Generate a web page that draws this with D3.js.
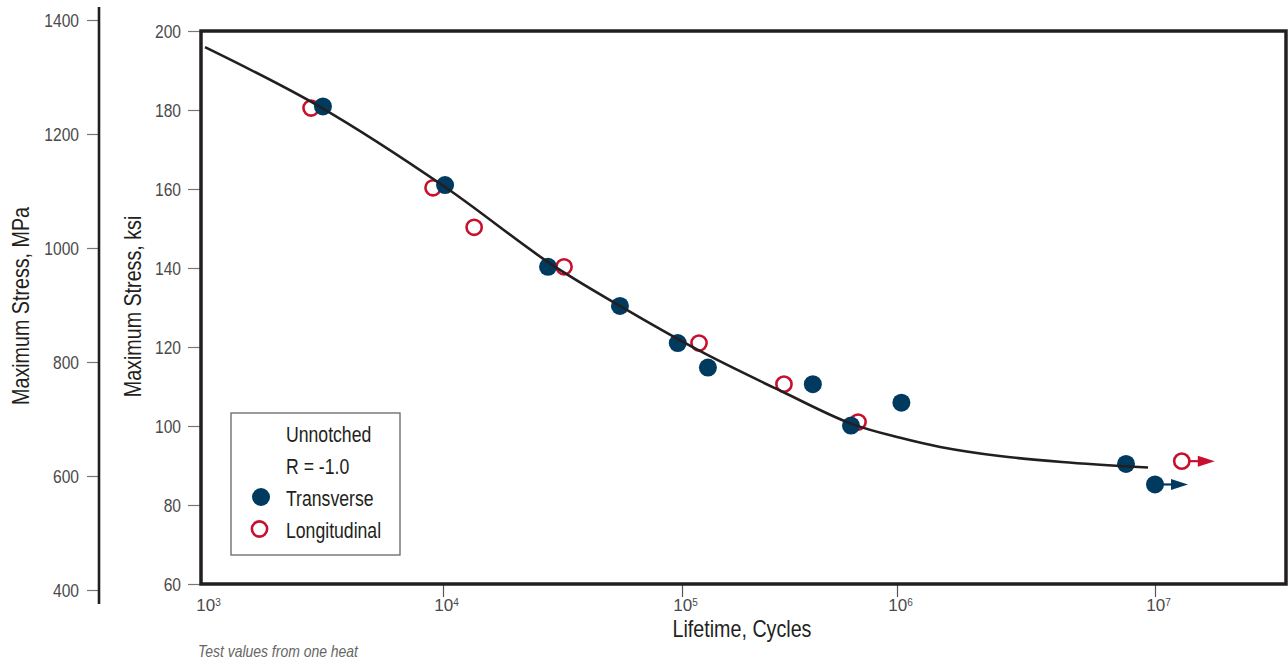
<!DOCTYPE html>
<html>
<head>
<meta charset="utf-8">
<script src="https://cdn.jsdelivr.net/npm/d3@7"></script>
<style>
  html, body { margin: 0; padding: 0; background: #fff; }
  svg { display: block; }
  text { font-family: "Liberation Sans", Arial, sans-serif; }
</style>
</head>
<body>
<svg id="chart" width="1288" height="664"></svg>
<script>
// ---------- DATA ----------
const xTickValues = [1e3, 1e4, 1e5, 1e6, 1e7];
const xTickExponents = ["3", "4", "5", "6", "7"];
const ksiTicks = [60, 80, 100, 120, 140, 160, 180, 200];
const mpaTicks = [400, 600, 800, 1000, 1200, 1400];

// Transverse (filled) specimens: cycles, ksi
const transCycles = [3130, 10200, 27500, 55000, 96000, 132000, 406000, 1040000, 611000, 7720000];
const transKsi    = [180.9, 161.0, 140.3, 130.4, 121.0, 114.8, 110.6, 105.9, 100.1, 90.4];
// Longitudinal (open) specimens
const longCycles = [2790, 9080, 13500, 32100, 120000, 298000, 659000];
const longKsi    = [180.5, 160.3, 150.3, 140.3, 121.0, 110.6, 101.0];
// Runouts (did not fail)
const transRunCycles = [10000000];
const transRunKsi    = [85.2];
const longRunCycles  = [12700000];
const longRunKsi     = [91.1];

// Fitted S-N curve
const curveCycles = [1000, 3040, 10200, 27500, 55000, 121000, 295000, 611000, 1030000, 1470000, 2500000, 4360000, 9400000];
const curveKsi    = [195.9, 180.8, 160.5, 141.5, 130.4, 119.0, 108.6, 100.6, 97.0, 94.7, 92.4, 90.9, 89.5];

const legendLines = ["Unnotched", "R = -1.0"];
const seriesNames = ["Transverse", "Longitudinal"];

// ---------- STYLE ----------
const navy = "#003b5f";
const red = "#c8102e";
const ink = "#231f20";
const grayText = "#4a4a4a";
const NARROW = 0.82;

const svg = d3.select("#chart");

// compress text horizontally to imitate a condensed face
function condense(sel, f = NARROW) {
  sel.each(function() {
    const w = this.getComputedTextLength();
    d3.select(this).attr("textLength", (w * f).toFixed(2)).attr("lengthAdjust", "spacingAndGlyphs");
  });
  return sel;
}

// ---------- SCALES ----------
const x = d3.scaleLog().domain(xTickValues).range([205, 443, 682, 897, 1155]);
const y = d3.scaleLinear().domain([60, 200]).range([584, 31]);
const yMpa = d3.scaleLinear().domain([400, 1400]).range([590, 20]);

const frame = { left: 201, right: 1286, top: y(200), bottom: y(60) };

// ---------- LEFT MPa AXIS ----------
const mpaAxis = svg.append("g").attr("transform", "translate(99,0)")
  .call(d3.axisLeft(yMpa).tickValues(mpaTicks).tickSize(12).tickPadding(8).tickFormat(d3.format("d")));
mpaAxis.select(".domain").remove();
mpaAxis.selectAll(".tick line").attr("stroke", "#777").attr("stroke-width", 1.2);
condense(mpaAxis.selectAll(".tick text").attr("fill", grayText).style("font-size", "19px"));
mpaAxis.append("line")
  .attr("x1", 0).attr("x2", 0)
  .attr("y1", yMpa.range()[1] - 13).attr("y2", yMpa.range()[0] + 14)
  .attr("stroke", ink).attr("stroke-width", 2.6);

condense(svg.append("text")
  .attr("transform", `translate(29,${(yMpa(1400) + yMpa(400)) / 2 + 1}) rotate(-90)`)
  .attr("text-anchor", "middle").attr("fill", ink)
  .style("font-size", "24px")
  .text("Maximum Stress, MPa"));

// ---------- KSI AXIS ----------
const ksiAxis = svg.append("g").attr("transform", `translate(${frame.left - 1},0)`)
  .call(d3.axisLeft(y).tickValues(ksiTicks).tickSize(12).tickPadding(7).tickFormat(d3.format("d")));
ksiAxis.select(".domain").remove();
ksiAxis.selectAll(".tick line").attr("stroke", "#777").attr("stroke-width", 1.2);
condense(ksiAxis.selectAll(".tick text").attr("fill", grayText).style("font-size", "19px"));

condense(svg.append("text")
  .attr("transform", `translate(141,${(y(200) + y(60)) / 2 - 1}) rotate(-90)`)
  .attr("text-anchor", "middle").attr("fill", ink)
  .style("font-size", "24px")
  .text("Maximum Stress, ksi"));

// ---------- X AXIS ----------
const xAxis = svg.append("g").attr("transform", `translate(0,${frame.bottom})`)
  .call(d3.axisBottom(x).tickValues(xTickValues).tickSize(13).tickPadding(2).tickFormat(() => ""));
xAxis.select(".domain").remove();
xAxis.selectAll(".tick line").attr("stroke", "#555").attr("stroke-width", 1.2)
  .filter(d => d === 1e3).remove();
xAxis.selectAll(".tick text").each(function(d, i) {
  const t = d3.select(this).attr("fill", grayText).style("font-size", "17px").attr("dy", "0.72em").attr("dx", "3");
  t.append("tspan").text("10");
  t.append("tspan").attr("dy", "-0.5em").style("font-size", "10px").text(xTickExponents[i]);
});

condense(svg.append("text")
  .attr("x", 742).attr("y", 637)
  .attr("text-anchor", "middle").attr("fill", ink)
  .style("font-size", "24px")
  .text("Lifetime, Cycles"));

condense(svg.append("text")
  .attr("x", 198).attr("y", 657)
  .attr("fill", "#666").style("font-size", "17px").style("font-style", "italic")
  .text("Test values from one heat"));

// ---------- PLOT FRAME ----------
svg.append("rect")
  .attr("x", frame.left).attr("y", frame.top)
  .attr("width", frame.right - frame.left).attr("height", frame.bottom - frame.top)
  .attr("fill", "none").attr("stroke", ink).attr("stroke-width", 3.5);

// ---------- DATA MARKS ----------
const longData = longCycles.map((c, i) => ({ c, s: longKsi[i] }));
const transData = transCycles.map((c, i) => ({ c, s: transKsi[i] }));
const longRun = longRunCycles.map((c, i) => ({ c, s: longRunKsi[i] }));
const transRun = transRunCycles.map((c, i) => ({ c, s: transRunKsi[i] }));

// runout arrows
function arrows(data, color, startOff) {
  const g = svg.append("g");
  data.forEach(d => {
    const px = x(d.c), py = y(d.s);
    g.append("line").attr("x1", px + startOff).attr("x2", px + 18)
      .attr("y1", py).attr("y2", py).attr("stroke", color).attr("stroke-width", 2.2);
    g.append("path")
      .attr("d", `M${px + 16},${py - 5.5}L${px + 33},${py}L${px + 16},${py + 5.5}Z`)
      .attr("fill", color);
  });
}
arrows(transRun, navy, 5);
arrows(longRun, red, 7);

svg.append("g").selectAll("circle").data(longData.concat(longRun)).join("circle")
  .attr("cx", d => x(d.c)).attr("cy", d => y(d.s)).attr("r", 7.6)
  .attr("fill", "none").attr("stroke", red).attr("stroke-width", 2.6);

svg.append("g").selectAll("circle").data(transData.concat(transRun)).join("circle")
  .attr("cx", d => x(d.c)).attr("cy", d => y(d.s)).attr("r", 9)
  .attr("fill", navy);

// ---------- S-N CURVE ----------
const line = d3.line().x(d => x(d[0])).y(d => y(d[1])).curve(d3.curveCatmullRom.alpha(0.5));
svg.append("path")
  .datum(curveCycles.map((c, i) => [c, curveKsi[i]]))
  .attr("d", line)
  .attr("fill", "none").attr("stroke", ink).attr("stroke-width", 2.6);

// ---------- LEGEND ----------
const lg = svg.append("g").attr("transform", "translate(231,413)");
lg.append("rect").attr("x", 0).attr("y", 0).attr("width", 169).attr("height", 142)
  .attr("fill", "#fff").attr("stroke", "#666").attr("stroke-width", 1.3);
const rows = legendLines.concat(seriesNames);
condense(lg.selectAll("text.row").data(rows).join("text").attr("class", "row")
  .attr("x", 55).attr("y", (d, i) => 28.5 + i * 32)
  .attr("fill", ink).style("font-size", "21.5px")
  .text(d => d));
lg.append("circle").attr("cx", 30).attr("cy", 84).attr("r", 9).attr("fill", navy);
lg.append("circle").attr("cx", 28.5).attr("cy", 116).attr("r", 7.6)
  .attr("fill", "none").attr("stroke", red).attr("stroke-width", 2.6);
</script>
</body>
</html>
